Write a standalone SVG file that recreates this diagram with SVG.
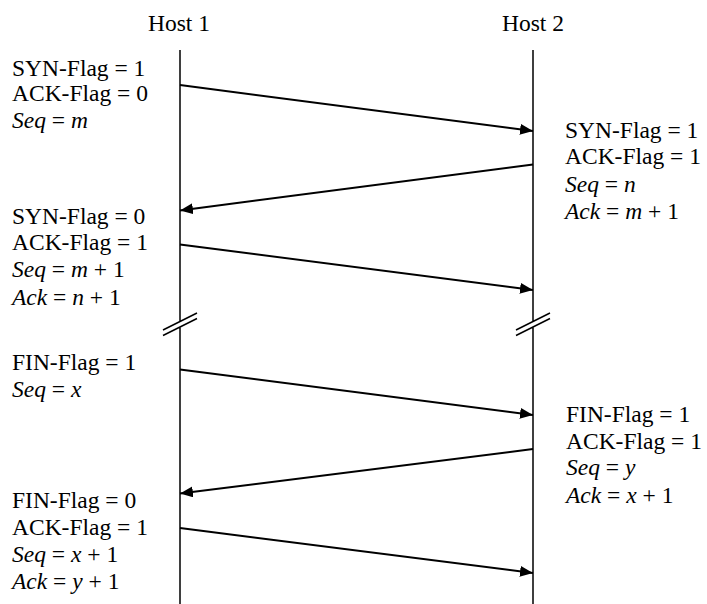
<svg xmlns="http://www.w3.org/2000/svg" width="707" height="604" viewBox="0 0 707 604">
<style>
text{font-family:"Liberation Serif","Times New Roman",serif;font-size:23.5px;fill:#000}
.i{font-style:italic}
.life{stroke:#000;stroke-width:1.5;fill:none}
.msg{stroke:#000;stroke-width:2;fill:none}
</style>
<defs>
<marker id="ah" viewBox="0 0 13 11" refX="13" refY="5.5" markerWidth="13" markerHeight="11" markerUnits="userSpaceOnUse" orient="auto">
<path d="M0,0 L13,5.5 L0,11 z" fill="#000"/>
</marker>
</defs>
<rect width="707" height="604" fill="#fff"/>
<g id="host1">
<text x="179" y="30.5" text-anchor="middle">Host 1</text>
<path class="life" d="M180,50 V321.5 M180,327 V604 M163,330 L197,313 M163,335.5 L197,318.5"/>
</g>
<g id="host2">
<text x="533" y="30.5" text-anchor="middle">Host 2</text>
<path class="life" d="M533,50 V321.5 M533,327 V604 M516,330 L550,313 M516,335.5 L550,318.5"/>
</g>
<g id="connectors">
<line class="msg" x1="180" y1="85" x2="533" y2="131" marker-end="url(#ah)"/>
<line class="msg" x1="533" y1="164.5" x2="180" y2="210.5" marker-end="url(#ah)"/>
<line class="msg" x1="180" y1="244.5" x2="533" y2="290" marker-end="url(#ah)"/>
<line class="msg" x1="180" y1="369.5" x2="533" y2="415" marker-end="url(#ah)"/>
<line class="msg" x1="533" y1="449" x2="180" y2="493.5" marker-end="url(#ah)"/>
<line class="msg" x1="180" y1="528" x2="533" y2="573" marker-end="url(#ah)"/>
</g>
<g id="label-syn">
<text x="12" y="75.5">SYN-Flag = 1</text>
<text x="12" y="101">ACK-Flag = 0</text>
<text x="12" y="127.5"><tspan class="i">Seq</tspan> = <tspan class="i">m</tspan></text>
</g>
<g id="label-synack">
<text x="565" y="137.5">SYN-Flag = 1</text>
<text x="565" y="164">ACK-Flag = 1</text>
<text x="565" y="191.5"><tspan class="i">Seq</tspan> = <tspan class="i">n</tspan></text>
<text x="565" y="219"><tspan class="i">Ack</tspan> = <tspan class="i">m</tspan> + 1</text>
</g>
<g id="label-ack">
<text x="12" y="223.5">SYN-Flag = 0</text>
<text x="12" y="250">ACK-Flag = 1</text>
<text x="12" y="277"><tspan class="i">Seq</tspan> = <tspan class="i">m</tspan> + 1</text>
<text x="12" y="304.5"><tspan class="i">Ack</tspan> = <tspan class="i">n</tspan> + 1</text>
</g>
<g id="label-fin">
<text x="12" y="370">FIN-Flag = 1</text>
<text x="12" y="397"><tspan class="i">Seq</tspan> = <tspan class="i">x</tspan></text>
</g>
<g id="label-finack">
<text x="566" y="421.5">FIN-Flag = 1</text>
<text x="566" y="448.5">ACK-Flag = 1</text>
<text x="566" y="475"><tspan class="i">Seq</tspan> = <tspan class="i">y</tspan></text>
<text x="566" y="503"><tspan class="i">Ack</tspan> = <tspan class="i">x</tspan> + 1</text>
</g>
<g id="label-lastack">
<text x="12" y="507.5">FIN-Flag = 0</text>
<text x="12" y="534.5">ACK-Flag = 1</text>
<text x="12" y="561.5"><tspan class="i">Seq</tspan> = <tspan class="i">x</tspan> + 1</text>
<text x="12" y="589"><tspan class="i">Ack</tspan> = <tspan class="i">y</tspan> + 1</text>
</g>
</svg>
